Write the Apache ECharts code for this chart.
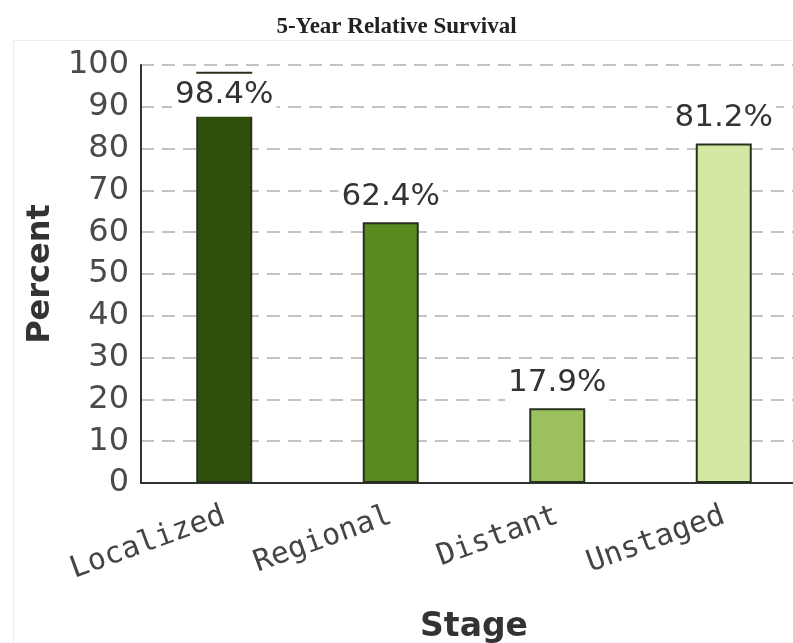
<!DOCTYPE html>
<html>
<head>
<meta charset="utf-8">
<script src="https://cdn.jsdelivr.net/npm/echarts@6/dist/echarts.min.js"></script>
<style>
html,body{margin:0;padding:0;background:#fff;}
#chart{width:793px;height:643px;}
</style>
</head>
<body>
<div id="chart"></div>
<script>
var categories = ['Localized', 'Regional', 'Distant', 'Unstaged'];
var values = [98.4, 62.4, 17.9, 81.2];
var barColors = ['#2e500a', '#5b8a20', '#9cc05e', '#d3e8a3'];
var yTicks = { min: 0, max: 100, interval: 10 };

var chart = echarts.init(document.getElementById('chart'), null, { renderer: 'canvas' });

var seriesData = values.map(function (v, i) {
  var item = { value: v, itemStyle: { color: barColors[i] } };
  if (i === 0) {
    item.label = { position: 'insideTop', distance: 2 };
  }
  return item;
});

chart.setOption({
  backgroundColor: '#fff',
  animation: false,
  title: {
    text: '5-Year Relative Survival',
    left: 'center',
    top: 11,
    textStyle: { fontFamily: 'Liberation Serif', fontWeight: 'bold', fontSize: 23, color: '#222' }
  },
  graphic: [{
    type: 'rect',
    shape: { x: 13.5, y: 40.5, width: 800, height: 620 },
    style: { fill: 'none', stroke: '#ececec', lineWidth: 1 },
    z: -1
  }],
  grid: { left: 141, width: 666, top: 65, height: 418, containLabel: false, outerBoundsMode: 'none' },
  xAxis: {
    type: 'category',
    data: categories,
    name: 'Stage',
    nameLocation: 'middle',
    nameGap: 128,
    nameTextStyle: { fontFamily: 'DejaVu Sans', fontWeight: 'bold', fontSize: 33, color: '#333' },
    axisLine: { show: true, lineStyle: { color: '#333', width: 2 } },
    axisTick: { show: false },
    axisLabel: {
      rotate: 20,
      margin: 32,
      fontFamily: 'DejaVu Sans Mono',
      fontSize: 30,
      color: '#444'
    },
    splitLine: { show: false }
  },
  yAxis: {
    type: 'value',
    min: yTicks.min,
    max: yTicks.max,
    interval: yTicks.interval,
    name: 'Percent',
    nameLocation: 'middle',
    nameRotate: 90,
    nameGap: 84,
    nameTextStyle: { fontFamily: 'DejaVu Sans', fontWeight: 'bold', fontSize: 32, color: '#333' },
    axisLine: { show: true, lineStyle: { color: '#333', width: 2 } },
    axisTick: { show: false },
    axisLabel: { margin: 12, fontFamily: 'DejaVu Sans', fontSize: 32, color: '#4a4a4a' },
    splitLine: { show: true, lineStyle: { color: '#b0b0b0', width: 1.5, type: [13, 8] } }
  },
  series: [{
    type: 'bar',
    data: seriesData,
    barWidth: 56,
    itemStyle: { borderColor: '#27301f', borderWidth: 2 },
    label: {
      show: true,
      position: 'top',
      distance: 4,
      formatter: function (p) { return p.value.toFixed(1) + '%'; },
      fontFamily: 'DejaVu Sans',
      fontSize: 31,
      color: '#333',
      backgroundColor: '#fff',
      padding: [6, 3]
    },
    z: 3
  }]
});
</script>
</body>
</html>
